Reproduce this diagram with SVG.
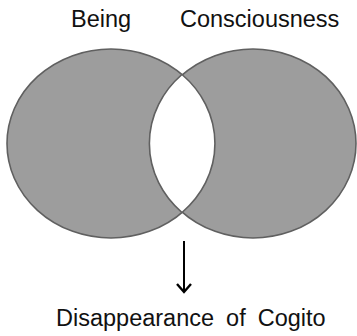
<svg xmlns="http://www.w3.org/2000/svg" width="357" height="336" viewBox="0 0 357 336">
<defs>
<style>
.set{fill:#9d9d9d;stroke:#606060;stroke-width:1.6}
.lens{fill:#ffffff;stroke:#606060;stroke-width:1.6}
.lbl{font-family:"Liberation Sans",Arial,sans-serif;font-size:23.5px;fill:#111}
</style>
<marker id="ah" viewBox="0 0 12 16" refX="10" refY="8" markerWidth="12" markerHeight="16" markerUnits="userSpaceOnUse" orient="auto">
<path d="M2,1 L10,8 L2,15" fill="none" stroke="#000" stroke-width="2.4"/>
</marker>
</defs>
<rect width="357" height="336" fill="#fff"/>
<g id="being">
<ellipse class="set" cx="111" cy="143.5" rx="104" ry="94.5"/>
<text class="lbl" x="71" y="27">Being</text>
</g>
<g id="consciousness">
<ellipse class="set" cx="253" cy="143.5" rx="103" ry="94.5"/>
<text class="lbl" x="180" y="27">Consciousness</text>
</g>
<g id="intersection">
<path class="lens" d="M182,74.5 A103,94.5 0 0 0 182,212.5 A104,94.5 0 0 0 182,74.5 Z"/>
</g>
<g id="connectors">
<line x1="184" y1="241" x2="184" y2="292" stroke="#000" stroke-width="2" marker-end="url(#ah)"/>
</g>
<g id="result">
<text class="lbl" x="56" y="326" word-spacing="5.5">Disappearance of Cogito</text>
</g>
</svg>
